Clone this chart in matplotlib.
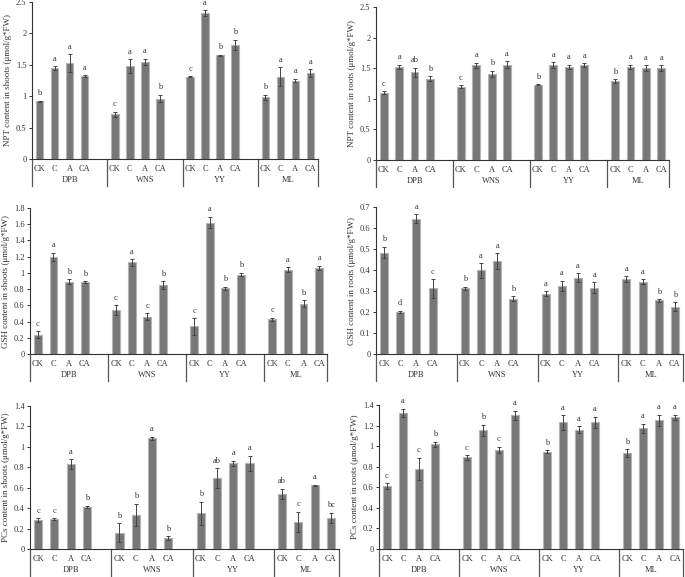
import matplotlib
matplotlib.use("Agg")
import matplotlib.pyplot as plt
import matplotlib.transforms as mtransforms
from matplotlib.ticker import FuncFormatter, MultipleLocator

plt.rcParams['font.family'] = ['Liberation Serif', 'DejaVu Serif']

groups = ['DPB', 'WNS', 'YY', 'ML']
treatments = ['CK', 'C', 'A', 'CA']

npt_shoots = [0.92, 1.45, 1.53, 1.32, 0.71, 1.48, 1.55, 0.96, 1.31, 2.32, 1.65, 1.82, 0.98, 1.31, 1.25, 1.37]
npt_shoots_err = [0.01, 0.03, 0.14, 0.01, 0.04, 0.11, 0.05, 0.06, 0.005, 0.05, 0.01, 0.08, 0.04, 0.15, 0.03, 0.06]
npt_shoots_let = ['b', 'a', 'a', 'a', 'c', 'a', 'a', 'b', 'c', 'a', 'b', 'b', 'b', 'a', 'a', 'a']

npt_roots = [1.10, 1.52, 1.43, 1.33, 1.20, 1.55, 1.41, 1.56, 1.23, 1.55, 1.52, 1.55, 1.29, 1.52, 1.50, 1.50]
npt_roots_err = [0.02, 0.04, 0.08, 0.04, 0.02, 0.04, 0.05, 0.05, 0.01, 0.05, 0.04, 0.03, 0.03, 0.04, 0.05, 0.05]
npt_roots_let = ['c', 'a', 'ab', 'b', 'c', 'a', 'b', 'a', 'b', 'a', 'a', 'a', 'b', 'a', 'a', 'a']

gsh_shoots = [0.24, 1.20, 0.89, 0.89, 0.54, 1.13, 0.46, 0.85, 0.34, 1.62, 0.81, 0.98, 0.43, 1.04, 0.62, 1.06]
gsh_shoots_err = [0.04, 0.05, 0.03, 0.01, 0.06, 0.04, 0.04, 0.05, 0.10, 0.07, 0.02, 0.02, 0.02, 0.03, 0.04, 0.03]
gsh_shoots_let = ['c', 'a', 'b', 'b', 'c', 'a', 'c', 'b', 'c', 'a', 'b', 'b', 'c', 'a', 'b', 'a']

gsh_roots = [0.483, 0.200, 0.645, 0.312, 0.312, 0.398, 0.443, 0.264, 0.287, 0.323, 0.363, 0.316, 0.357, 0.344, 0.255, 0.225]
gsh_roots_err = [0.027, 0.005, 0.02, 0.044, 0.008, 0.035, 0.036, 0.012, 0.013, 0.025, 0.022, 0.025, 0.013, 0.011, 0.006, 0.022]
gsh_roots_let = ['b', 'd', 'a', 'c', 'b', 'a', 'a', 'b', 'a', 'a', 'a', 'a', 'a', 'a', 'b', 'b']

pcs_shoots = [0.28, 0.29, 0.83, 0.415, 0.16, 0.335, 1.085, 0.105, 0.35, 0.695, 0.84, 0.84, 0.54, 0.265, 0.625, 0.305]
pcs_shoots_err = [0.02, 0.01, 0.05, 0.01, 0.09, 0.11, 0.015, 0.02, 0.115, 0.095, 0.025, 0.075, 0.05, 0.10, 0.005, 0.05]
pcs_shoots_let = ['c', 'c', 'a', 'b', 'b', 'b', 'a', 'b', 'b', 'ab', 'a', 'a', 'ab', 'c', 'a', 'bc']

pcs_roots = [0.61, 1.325, 0.78, 1.02, 0.89, 1.155, 0.965, 1.30, 0.945, 1.23, 1.16, 1.23, 0.93, 1.175, 1.25, 1.28]
pcs_roots_err = [0.03, 0.04, 0.105, 0.025, 0.02, 0.055, 0.03, 0.045, 0.015, 0.07, 0.035, 0.055, 0.04, 0.045, 0.055, 0.025]
pcs_roots_let = ['c', 'a', 'c', 'b', 'c', 'b', 'c', 'a', 'b', 'a', 'a', 'a', 'b', 'a', 'a', 'a']

W, H = 685, 577
fig = plt.figure(figsize=(W / 100, H / 100), dpi=100)

BAR_FC = '#777777'
BAR_EC = '#b4b4b4'
AX_C = '#333333'


def panel(box, vals, errs, lets, ymax, step, ylabel):
    l, r, t, b = box
    ax = fig.add_axes([l / W, 1 - b / H, (r - l) / W, (b - t) / H])
    hpx = b - t
    xs = []
    for g in range(4):
        for k in range(4):
            xs.append(g * 5 + 0.5 + k)
    ax.bar(xs, vals, width=0.5, color=BAR_FC, edgecolor=BAR_EC, linewidth=0.8, zorder=2)
    ax.errorbar(xs, vals, yerr=errs, fmt='none', ecolor='#444444', elinewidth=0.7,
                capsize=1.6, capthick=0.7, zorder=3)
    for x, v, e, s in zip(xs, vals, errs, lets):
        ax.annotate(s, (x, v + e), xytext=(0, 2.5), textcoords='offset points',
                    ha='center', va='bottom', fontsize=6, color='#333333')
    ax.set_xlim(0, 19)
    ax.set_ylim(0, ymax)
    ax.yaxis.set_major_locator(MultipleLocator(step))
    ax.yaxis.set_major_formatter(FuncFormatter(lambda v, p: '%g' % round(v, 3)))
    for side in ['top', 'right']:
        ax.spines[side].set_visible(False)
    for side in ['left', 'bottom']:
        ax.spines[side].set_color(AX_C)
        ax.spines[side].set_linewidth(0.8)
    ax.tick_params(axis='y', direction='out', length=2.5, width=0.7, labelsize=6,
                   colors='#333333', pad=1.5)
    ax.set_xticks(xs)
    ax.set_xticklabels(treatments * 4)
    ax.tick_params(axis='x', length=0, labelsize=6, colors='#333333', pad=4)
    trans = mtransforms.blended_transform_factory(ax.transData, ax.transAxes)
    for sx in [0, 5, 10, 15, 19]:
        ax.plot([sx, sx], [0, -27.0 / hpx], transform=trans, color='#555555',
                lw=0.9, clip_on=False)
    for g, name in enumerate(groups):
        cx = [2.5, 7.5, 12.5, 17.0][g]
        ax.text(cx, -21.0 / hpx, name, transform=trans, ha='center', va='center',
                fontsize=6, color='#333333')
    ax.set_ylabel(ylabel, fontsize=6.5, color='#333333', labelpad=3)
    return ax


panel((32, 318, 2, 159), npt_shoots, npt_shoots_err, npt_shoots_let, 2.5, 0.5,
      'NPT content in shoots (μmol/g*FW)')
panel((376, 669, 7, 160), npt_roots, npt_roots_err, npt_roots_let, 2.5, 0.5,
      'NPT content in roots (μmol/g*FW)')
panel((30, 327, 208, 354), gsh_shoots, gsh_shoots_err, gsh_shoots_let, 1.8, 0.2,
      'GSH content in shoots (μmol/g*FW)')
panel((376, 683, 207, 354), gsh_roots, gsh_roots_err, gsh_roots_let, 0.7, 0.1,
      'GSH content in roots (μmol/g*FW)')
panel((30, 339, 406, 549), pcs_shoots, pcs_shoots_err, pcs_shoots_let, 1.4, 0.2,
      'PCs content in shoots (μmol/g*FW)')
panel((379, 683, 405, 549), pcs_roots, pcs_roots_err, pcs_roots_let, 1.4, 0.2,
      'PCs content in roots (μmol/g*FW)')

fig.savefig('out.png', dpi=100)
